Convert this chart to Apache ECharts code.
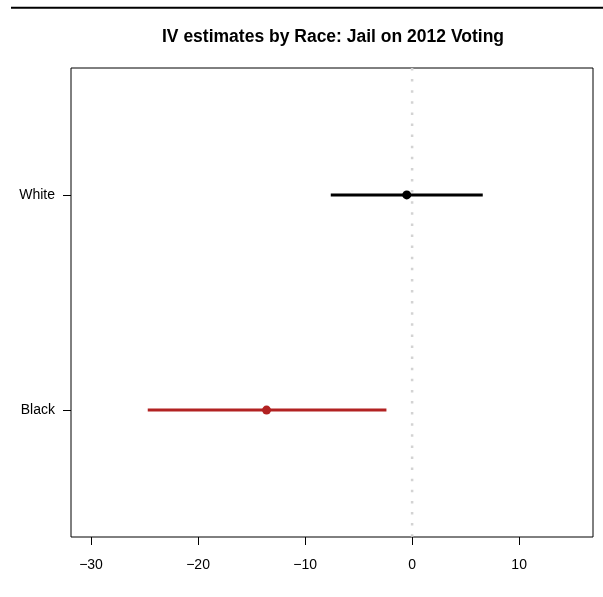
<!DOCTYPE html>
<html>
<head>
<meta charset="utf-8">
<script src="https://cdn.jsdelivr.net/npm/echarts@6/dist/echarts.min.js"></script>
<style>html,body{margin:0;padding:0;background:#fff;}#c{width:603px;height:597px;}</style>
</head>
<body>
<div id="c"></div>
<script>
var races = ['Black', 'White'];
var racePos = [1, 2];
var estimates = [-13.6, -0.5];
var lower = [-24.7, -7.6];
var upper = [-2.4, 6.6];
var colors = ['#B22222', '#000000'];
var xTicks = [-30, -20, -10, 0, 10];

var chart = echarts.init(document.getElementById('c'), null, {renderer: 'canvas'});
var font = 'Liberation Sans, Arial, Helvetica, sans-serif';

var ciData = races.map(function (r, i) { return [lower[i], upper[i], racePos[i], i]; });
var ptData = races.map(function (r, i) {
  return {value: [estimates[i], racePos[i]], itemStyle: {color: colors[i], opacity: 1}};
});

chart.setOption({
  animation: false,
  backgroundColor: '#fff',
  title: {
    text: 'IV estimates by Race: Jail on 2012 Voting',
    left: 328, top: 23, textAlign: 'center',
    textStyle: {fontFamily: font, fontWeight: 'bold', fontSize: 17.5, color: '#000'}
  },
  graphic: [{
    type: 'line', shape: {x1: 11, y1: 7.7, x2: 603, y2: 7.7},
    style: {stroke: '#000', lineWidth: 2}
  }],
  grid: {left: 71, right: 10, top: 68, bottom: 60, show: true, borderColor: '#000', borderWidth: 1, backgroundColor: 'transparent'},
  xAxis: {
    type: 'value', min: -31.87, max: 16.9,
    axisLine: {show: false, onZero: false},
    splitLine: {show: false},
    axisTick: {show: true, length: 8, inside: false, lineStyle: {color: '#000'}, customValues: xTicks},
    axisLabel: {
      customValues: xTicks, margin: 21, color: '#000', fontFamily: font, fontSize: 14,
      formatter: function (v) { return String(v).replace('-', '\u2212'); }
    }
  },
  yAxis: {
    type: 'value', min: 0.41, max: 2.59,
    axisLine: {show: false, onZero: false},
    splitLine: {show: false},
    axisTick: {show: true, length: 8, lineStyle: {color: '#000'}, customValues: racePos},
    axisLabel: {
      customValues: racePos, margin: 16, color: '#000', fontFamily: font, fontSize: 14,
      formatter: function (v) { var i = racePos.indexOf(Math.round(v)); return i >= 0 ? races[i] : ''; }
    }
  },
  series: [
    {
      type: 'line', data: [[0, 2.59], [0, 0.41]], symbol: 'none', silent: true,
      lineStyle: {color: '#d3d3d3', width: 2.5, type: [2.5, 8.6]}, z: 1
    },
    {
      type: 'custom', data: ciData, z: 2,
      renderItem: function (params, api) {
        var p1 = api.coord([api.value(0), api.value(2)]);
        var p2 = api.coord([api.value(1), api.value(2)]);
        return {type: 'line', shape: {x1: p1[0], y1: p1[1], x2: p2[0], y2: p2[1]},
          style: {stroke: colors[api.value(3)], lineWidth: 3}};
      }
    },
    {
      type: 'scatter', data: ptData, symbol: 'circle', symbolSize: 9, z: 3
    }
  ]
});
</script>
</body>
</html>
